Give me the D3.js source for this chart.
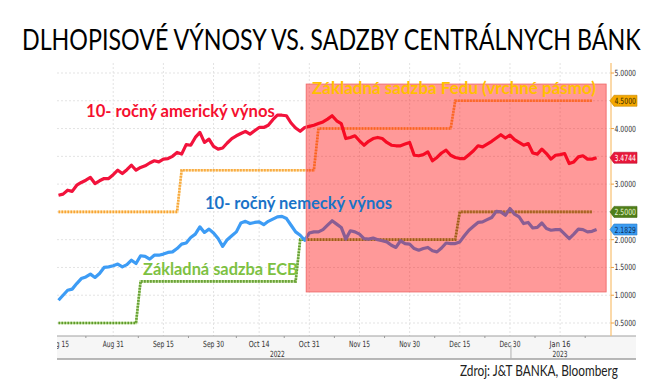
<!DOCTYPE html>
<html><head><meta charset="utf-8">
<script src="https://cdn.jsdelivr.net/npm/d3@7"></script>
<style>body{margin:0;background:#fff}svg{display:block}</style>
</head><body><svg id="c" width="661" height="381"></svg>
<script>
// ---------- DATA ----------
const startDate = "2022-08-15", endDate = "2023-01-26";
const usYield = [2.80,2.82,2.89,2.87,2.98,3.03,3.07,3.12,3.01,3.06,
 3.10,3.10,3.17,3.25,3.19,3.26,3.34,3.25,3.30,3.33,
 3.38,3.42,3.40,3.45,3.46,3.50,3.57,3.54,3.71,3.70,
 3.84,3.93,3.75,3.81,3.68,3.63,3.65,3.74,3.82,3.87,
 3.91,3.95,3.90,3.96,4.02,4.02,4.06,4.16,4.24,4.24,
 4.23,4.10,4.01,3.95,4.02,4.04,4.06,4.09,4.12,4.17,
 4.23,4.14,4.09,3.82,3.84,3.87,3.78,3.70,3.77,3.82,
 3.84,3.82,3.75,3.70,3.69,3.69,3.72,3.75,3.52,3.51,
 3.53,3.58,3.42,3.48,3.56,3.61,3.52,3.48,3.46,3.46,
 3.53,3.60,3.69,3.67,3.72,3.77,3.83,3.89,3.83,3.88,
 3.80,3.75,3.70,3.73,3.56,3.54,3.63,3.55,3.45,3.52,
 3.53,3.55,3.37,3.40,3.49,3.51,3.45,3.45,3.4744];
const deYield = [0.91,1.00,1.09,1.11,1.21,1.30,1.33,1.38,1.32,1.39,
 1.50,1.51,1.53,1.56,1.51,1.55,1.63,1.57,1.71,1.70,
 1.65,1.72,1.72,1.74,1.77,1.78,1.84,1.92,1.94,2.04,
 2.10,2.23,2.13,2.19,2.12,2.02,1.88,2.00,2.07,2.14,
 2.30,2.33,2.29,2.31,2.32,2.27,2.33,2.37,2.41,2.42,
 2.38,2.26,2.14,2.08,1.99,2.12,2.14,2.14,2.18,2.26,
 2.34,2.28,2.22,2.01,2.16,2.14,2.10,2.02,2.01,2.03,
 2.00,1.98,1.96,1.90,1.86,1.98,1.93,1.92,1.84,1.81,
 1.84,1.86,1.80,1.78,1.85,1.94,1.93,1.93,1.96,2.07,
 2.17,2.24,2.31,2.32,2.36,2.40,2.51,2.50,2.44,2.56,
 2.46,2.41,2.29,2.31,2.21,2.22,2.30,2.20,2.17,2.18,
 2.18,2.10,2.02,2.10,2.19,2.18,2.14,2.15,2.1829];
const fedChangeDates = ["2022-08-15","2022-09-21","2022-11-02","2022-12-14"];
const fedRates = [2.5, 3.25, 4.0, 4.5];
const ecbChangeDates = ["2022-08-15","2022-09-08","2022-10-27","2022-12-15"];
const ecbRates = [0.5, 1.25, 2.0, 2.5];
const rateEndDate = "2023-01-25";
const tickDates = ["2022-08-15","2022-08-31","2022-09-15","2022-09-30","2022-10-14","2022-10-31","2022-11-15","2022-11-30","2022-12-15","2022-12-30","2023-01-16"];
const tickLabels = ["Aug 15","Aug 31","Sep 15","Sep 30","Oct 14","Oct 31","Nov 15","Nov 30","Dec 15","Dec 30","Jan 16"];
const yearLabels = ["2022","2023"];
const yearLabelDates = ["2022-10-20","2023-01-16"];
const yTicks = [0.5,1.0,1.5,2.0,2.5,3.0,3.5,4.0,4.5,5.0];
const highlightFrom = "2022-10-28", highlightTo = "2023-01-26";

// ---------- SETUP ----------
const parse = d3.utcParse("%Y-%m-%d"), fmt = d3.utcFormat("%Y-%m-%d");
const dates = d3.utcDay.range(parse(startDate), d3.utcDay.offset(parse(endDate),1))
  .filter(d => d.getUTCDay() % 6 !== 0).map(fmt);
const idx = s => dates.indexOf(s);

const svg = d3.select("#c");
const L = 57, R = 611, T = 63, B = 336;
const x = d3.scaleLinear().domain([0, dates.length - 1]).range([58.5, 596.6]);
const y = d3.scaleLinear().domain([0.5, 5.0]).range([323, 73]);
const NARROW = "'Liberation Sans Narrow','DejaVu Sans Condensed','Roboto',sans-serif";

// place a text at (xx,yy) and squeeze it horizontally to width w (if wider)
function fitText(parent, t, xx, yy, w, style, anchor){
  const el = parent.append("text").attr("x", 0).attr("y", 0).text(t);
  Object.entries(style).forEach(([k,v]) => k === "fill" ? el.attr("fill", v) : el.style(k, v));
  const nat = el.node().getComputedTextLength();
  const sx = w ? w / nat : 1;
  let dx = 0;
  if (anchor === "middle") dx = -nat * sx / 2;
  el.attr("transform", `translate(${xx + dx},${yy}) scale(${sx},1)`);
  return el;
}

function stepSeries(chDates, rates, end){
  const out = [];
  const endI = idx(end);
  for (let i = 0; i <= endI; i++){
    let r = rates[0];
    chDates.forEach((d,k) => { if (dates[i] >= d) r = rates[k]; });
    out.push([i, r]);
  }
  return out;
}
const fed = stepSeries(fedChangeDates, fedRates, rateEndDate);
const ecb = stepSeries(ecbChangeDates, ecbRates, rateEndDate);

// Title
fitText(svg, "DLHOPISOVÉ VÝNOSY VS. SADZBY CENTRÁLNYCH BÁNK", 22, 50, 619,
  {"font-family": "Lato, 'Open Sans', sans-serif", "font-size": "29px", fill: "#000"});

// grid
const g = svg.append("g");
g.selectAll(".hg").data(yTicks).join("line")
  .attr("x1", L).attr("x2", R).attr("y1", d => y(d)).attr("y2", d => y(d))
  .attr("stroke", "#e3e3e3").attr("stroke-dasharray", "2,2");
g.selectAll(".vg").data(tickDates.slice(1)).join("line")
  .attr("x1", d => x(idx(d))).attr("x2", d => x(idx(d))).attr("y1", T).attr("y2", B)
  .attr("stroke", "#e3e3e3").attr("stroke-dasharray", "2,2");

// x axis band
svg.append("rect").attr("x", L).attr("y", B).attr("width", 636 - L).attr("height", 23).attr("fill", "#f6f6f6");
svg.append("line").attr("x1", L).attr("x2", 636).attr("y1", B).attr("y2", B).attr("stroke", "#a0a0a0");
svg.append("line").attr("x1", L).attr("x2", 636).attr("y1", B + 23).attr("y2", B + 23).attr("stroke", "#a0a0a0").attr("stroke-width", 1.5);
svg.append("line").attr("x1", x(idx("2022-12-30")) + 1).attr("x2", x(idx("2022-12-30")) + 1)
  .attr("y1", B + 9).attr("y2", B + 23).attr("stroke", "#b0b0b0");
const minor = [];
for (let k = 0; k < tickDates.length; k++){
  const a = idx(tickDates[k]), b = k + 1 < tickDates.length ? idx(tickDates[k+1]) : a + 11;
  minor.push((a + b) / 2);
}
svg.selectAll(".mt").data(minor).join("line")
  .attr("x1", d => x(d)).attr("x2", d => x(d)).attr("y1", B).attr("y2", B + 2).attr("stroke", "#999");

svg.append("clipPath").attr("id", "axclip").append("rect").attr("x", L).attr("y", B).attr("width", 600).attr("height", 30);
const xl = svg.append("g").attr("clip-path", "url(#axclip)");
const tickStyle = {"font-family": NARROW, "font-size": "8.5px", fill: "#333"};
tickDates.forEach((d,i) => fitText(xl, tickLabels[i], x(idx(d)), B + 10.5, 21, tickStyle, "middle"));
yearLabels.forEach((d,i) => fitText(svg, d, x(idx(yearLabelDates[i])), B + 20.5, 15, tickStyle, "middle"));

// lines
const line = d3.line().x(d => x(d[0])).y(d => y(d[1]));
function dotted(data, light, dark){
  svg.append("path").datum(data).attr("d", line).attr("fill", "none")
    .attr("stroke", light).attr("stroke-width", 2.6);
  svg.append("path").datum(data).attr("d", line).attr("fill", "none")
    .attr("stroke", dark).attr("stroke-width", 2.6).attr("stroke-dasharray", "1.5,1.5");
}
dotted(fed, "#fdd9a0", "#f7a534");
dotted(ecb, "#b5d98f", "#5f9a2b");
svg.append("path").datum(deYield.map((v,i) => [i, v])).attr("d", line).attr("fill", "none")
  .attr("stroke", "#3d9cf5").attr("stroke-width", 3.2).attr("stroke-linejoin", "round");
svg.append("path").datum(usYield.map((v,i) => [i, v])).attr("d", line).attr("fill", "none")
  .attr("stroke", "#f2133c").attr("stroke-width", 3.2).attr("stroke-linejoin", "round");

// highlight rectangle (overlay)
svg.append("rect")
  .attr("x", x(idx(highlightFrom)) + 1.5).attr("y", y(4.8))
  .attr("width", x(idx(highlightTo)) + 9.5 - x(idx(highlightFrom)) - 1.5)
  .attr("height", y(1.06) - y(4.8))
  .attr("fill", "#ff0000").attr("fill-opacity", 0.4)
  .attr("stroke", "#f07070").attr("stroke-width", 1);

// right axis
svg.append("line").attr("x1", R).attr("x2", R).attr("y1", T).attr("y2", B).attr("stroke", "#f8c070").attr("stroke-width", 1.2);
svg.selectAll(".yt").data(yTicks).join("line")
  .attr("x1", R).attr("x2", R + 3).attr("y1", d => y(d)).attr("y2", d => y(d)).attr("stroke", "#f0a040");
const yAxisTicks = yTicks.filter(v => v !== 4.5 && v !== 2.5 && v !== 3.5);
const ylStyle = {"font-family": NARROW, "font-size": "8.5px", fill: "#333"};
yAxisTicks.forEach(v => fitText(svg, d3.format(".4f")(v), R + 3.5, y(v) + 3, 21.5, ylStyle));

// value boxes
const boxes = [
  {v: fedRates[fedRates.length-1], fill: "#f5a800", txt: "#3a2a00"},
  {v: usYield[usYield.length-1], fill: "#e8173a", txt: "#ffffff"},
  {v: ecbRates[ecbRates.length-1], fill: "#4f7f18", txt: "#e8f5d8"},
  {v: deYield[deYield.length-1], fill: "#3a9cf2", txt: "#10305a"}
];
boxes.forEach(b => {
  const cy = y(b.v);
  svg.append("path").attr("d", `M${R-1},${cy} L${R+3},${cy-5.5} L637,${cy-5.5} L637,${cy+5.5} L${R+3},${cy+5.5} Z`)
    .attr("fill", b.fill).attr("stroke", d3.color(b.fill).darker(0.6)).attr("stroke-width", 0.6);
  fitText(svg, d3.format(".4f")(b.v), R + 3.5, cy + 3.2, 21.5,
    {"font-family": NARROW, "font-size": "8.5px", fill: b.txt});
});

// annotations
const annStyle = (col, size, weight) => ({"font-family": "Lato, 'Open Sans', sans-serif", "font-size": size + "px", "font-weight": weight, fill: col});
fitText(svg, "10- ročný americký výnos", 86, 117, 189, annStyle("#f5102f", 17, 700));
fitText(svg, "10- ročný nemecký výnos", 205, 209, 187, annStyle("#1a73c8", 17, 700));
fitText(svg, "Základná sadzba ECB", 143, 275, 155, annStyle("#7dc142", 17, 700));
fitText(svg, "Základná sadzba Fedu (vrchné pásmo)", 312, 94, 284, annStyle("#ffc000", 17, 700));
fitText(svg, "Zdroj: J&T BANKA, Bloomberg", 460, 376, 158, annStyle("#222", 14.5, 400));
</script></body></html>
